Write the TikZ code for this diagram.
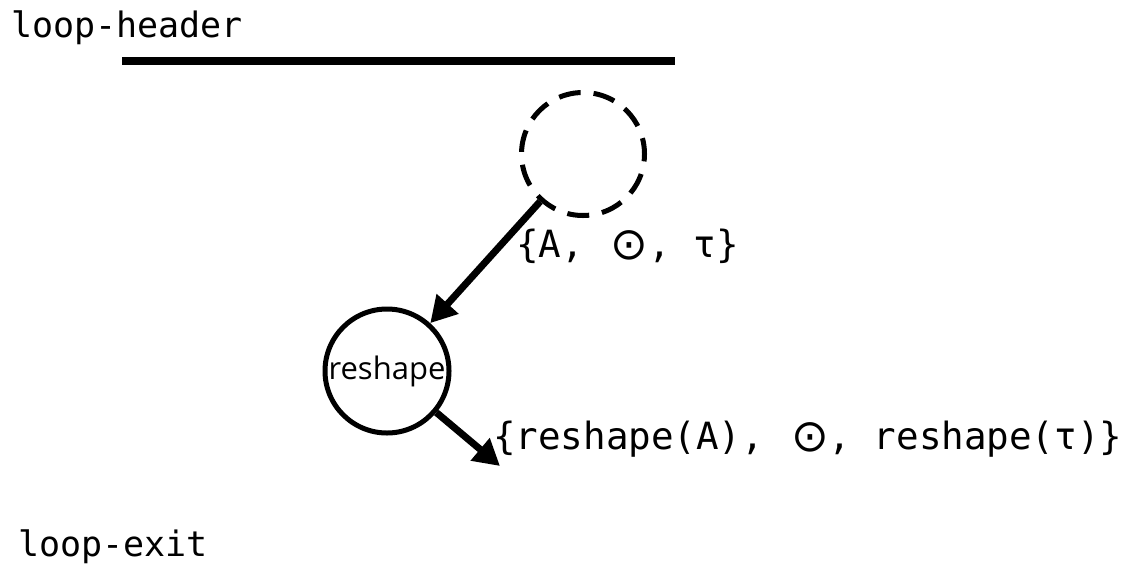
\documentclass[tikz,border=0pt]{standalone}
\usepackage{fontspec}
\usetikzlibrary{arrows.meta}
\newfontfamily\monof{DejaVu Sans Mono}
\newfontfamily\sansf{Open Sans}
\newfontfamily\symf{DejaVu Sans}
\newcommand{\odotsym}{\makebox[1.12em][r]{\raisebox{-2.5pt}{\symf\fontsize{45}{45}\selectfont ⊙}}}
\tikzset{
  looplabel/.style={anchor=base west, inner sep=0pt, font=\monof\fontsize{35}{40}\selectfont},
  edgelabel/.style={anchor=base west, inner sep=0pt, font=\monof\fontsize{37.5}{42}\selectfont},
  opnode/.style={circle, draw, line width=5pt, minimum size=124pt, inner sep=0pt, font=\sansf\fontsize{31}{34}\selectfont},
  phinode/.style={circle, draw, line width=5pt, minimum size=123pt, inner sep=0pt, dash pattern=on 22pt off 13pt, dash phase=6pt},
  flow/.style={line width=7pt, -{Triangle[length=26pt,width=28pt]}},
  bar/.style={line width=8pt}
}
\begin{document}
\begin{tikzpicture}[x=1pt,y=-1pt]
\useasboundingbox (0,0) rectangle (1147,571);
\node[looplabel] (hdr) at (11,37) {loop-header};
\coordinate (barL) at (122,61);
\coordinate (barR) at (675,61);
\draw[bar] (barL) -- (barR);
\node[phinode] (phi) at (583,154) {};
\node[opnode] (resh) at (387,371) {reshape};
\coordinate (out) at (500,466);
\draw[flow] (phi) -- (resh);
\draw[flow] (resh) -- (out);
\node[edgelabel] (l1) at (516,257) {\{A, \odotsym, τ\}};
\node[edgelabel] (l2) at (493,449) {\{reshape(A), \odotsym, reshape(τ)\}};
\node[looplabel] (ext) at (18,556) {loop-exit};
\end{tikzpicture}
\end{document}
